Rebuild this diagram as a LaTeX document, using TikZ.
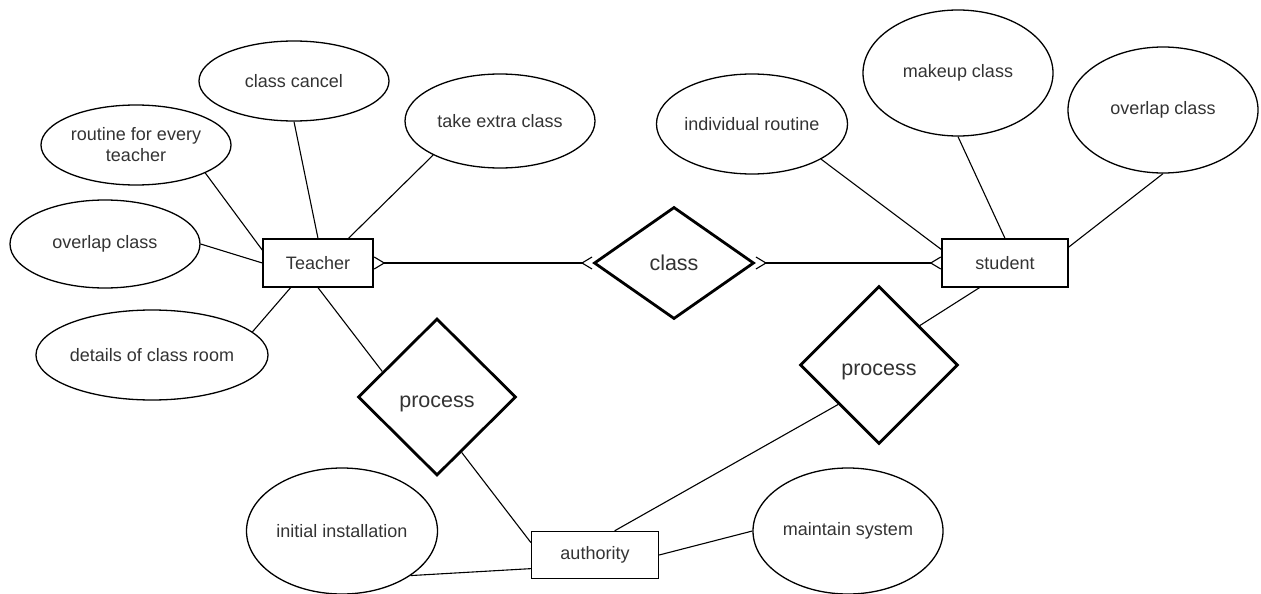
\documentclass[tikz,border=0pt]{standalone}
\usepackage{fontspec}
\setmainfont{Liberation Sans}
\usetikzlibrary{shapes.geometric, arrows.meta}
\tikzstyle{attribute} = [ellipse, draw=black, line width=1.3pt, inner sep=0pt,
text=black!80, font=\fontsize{18}{21}\selectfont, align=center]
\tikzstyle{entity} = [rectangle, draw=black, line width=1.3pt, inner sep=0pt,
text=black!80, font=\fontsize{18}{21}\selectfont]
\tikzstyle{relation} = [diamond, draw=black, line width=2.8pt, inner sep=0pt,
text=black!80, font=\fontsize{21.5}{24}\selectfont]
\tikzstyle{line} = [line width=1.1pt]
\tikzset{many/.tip={Straight Barb[reversed, length=10pt, width=12pt, line width=1.1pt]}}

\begin{document}
\begin{tikzpicture}[x=1pt, y=-1pt]
\useasboundingbox (0,0) rectangle (1261,594);

% entities
\node(teacher)[entity, minimum width=110pt, minimum height=48pt] at (318,263){Teacher};
\node(student)[entity, minimum width=126pt, minimum height=48pt] at (1005,263){student};
\node(authority)[entity, minimum width=127pt, minimum height=47pt] at (595,555){authority};

% relations
\node(classRel)[relation, minimum width=160pt, minimum height=112pt] at (674,263){class};
\node(procLeft)[relation, minimum width=158pt, minimum height=157pt,
text height=25pt, text depth=4.5pt] at (437,397){process};
\node(procRight)[relation, minimum width=158pt, minimum height=158pt,
text height=25pt, text depth=4.5pt] at (879,365){process};

% teacher attributes
\node(cancel)[attribute, minimum width=190pt, minimum height=80pt] at (294,81){class cancel};
\node(routine)[attribute, minimum width=190pt, minimum height=80pt] at (136,145){routine for every\\teacher};
\node(overlapT)[attribute, minimum width=190pt, minimum height=88pt] at (105,244){overlap class};
\node(details)[attribute, minimum width=190pt, minimum height=90pt] at (152,355){details of class room};
\node(extra)[attribute, minimum width=190pt, minimum height=94pt] at (500,121){take extra class};

% student attributes
\node(indiv)[attribute, minimum width=188pt, minimum height=100pt] at (752,124){individual routine};
\node(makeup)[attribute, minimum width=190pt, minimum height=126pt] at (958,73){makeup class};
\node(overlapS)[attribute, minimum width=190pt, minimum height=126pt] at (1163,110){overlap class};

% authority attributes
\node(install)[attribute, minimum width=191pt, minimum height=126pt] at (342,531){initial installation};
\node(maintain)[attribute, minimum width=190pt, minimum height=126pt] at (848,531){maintain system};

\draw[line](cancel.south) -- (teacher.north);
\draw[line](routine.-22) -- (teacher.167);
\draw[line](overlapT.east) -- (teacher.west);
\draw[line](extra.207) -- (teacher.39);
\draw[line](details.13) -- (teacher.222);
\draw[line](teacher.south) -- (procLeft.155);

\draw[line, many-many](teacher) -- (classRel);
\draw[line, many-many](classRel) -- (student);

\draw[line](indiv.-27) -- (student.168);
\draw[line](makeup.south) -- (student.north);
\draw[line](overlapS.south) -- (student.14);
\draw[line](student.224) -- (procRight.44);

\draw[line](procLeft.-66) -- (authority.169);
\draw[line](authority.51) -- (procRight.224);
\draw[line](install.-33) -- (authority.192);
\draw[line](authority.east) -- (maintain.west);

\end{tikzpicture}
\end{document}
